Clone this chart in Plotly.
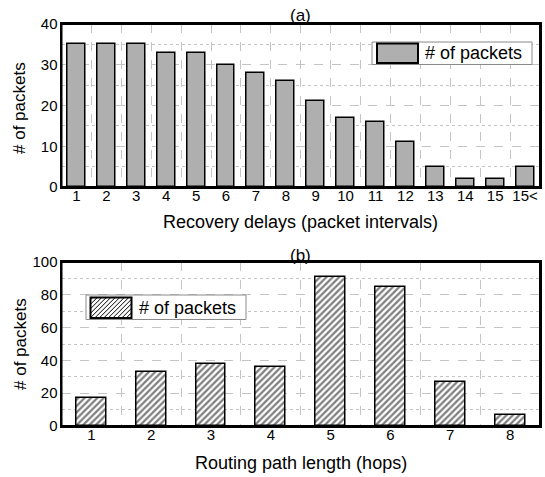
import plotly.graph_objects as go

# ---- data ----
delay_labels = ["1", "2", "3", "4", "5", "6", "7", "8", "9", "10", "11", "12", "13", "14", "15", "15<"]
delay_packets = [35, 35, 35, 33, 33, 30, 28, 26, 21, 17, 16, 11, 5, 2, 2, 5]
hop_labels = ["1", "2", "3", "4", "5", "6", "7", "8"]
hop_packets = [17, 33, 38, 36, 91, 85, 27, 7]
series_name = "# of packets"

W, H = 545, 477
FONT = "Liberation Sans, Arial, sans-serif"
GRID = "#c4c4c4"
BAR_GRAY = "#afafaf"
HATCH = dict(shape="/", fgcolor="black", bgcolor="white", size=4.5, solidity=0.5)

def px(x):
    return x / W

def py(y):
    return 1 - y / H

xdom = [px(61.5), px(540)]
top_dom = [py(187), py(24)]
bot_dom = [py(426), py(262)]

fig = go.Figure()

fig.add_trace(go.Bar(
    x=list(range(len(delay_labels))), y=delay_packets, width=0.6,
    marker=dict(color=BAR_GRAY, line=dict(color="black", width=1.5)),
    xaxis="x", yaxis="y", showlegend=False, name=series_name))

fig.add_trace(go.Bar(
    x=list(range(len(hop_labels))), y=hop_packets, width=0.5,
    marker=dict(color="white", line=dict(color="black", width=1.5), pattern=HATCH),
    xaxis="x2", yaxis="y2", showlegend=False, name=series_name))

def xax(n, anchor, labels):
    return dict(domain=xdom, anchor=anchor, range=[-0.5, n - 0.5],
                tickvals=list(range(n)), ticktext=labels, ticks="",
                showgrid=False, zeroline=False,
                showline=True, linecolor="black", linewidth=2, mirror=True,
                tickfont=dict(size=15, color="black"), ticklabelstandoff=-6,
                minor=dict(tick0=0.5, dtick=1, showgrid=True, gridcolor=GRID,
                           griddash="dash", gridwidth=1, ticks=""))

def yax(dom, anchor, top, dt):
    return dict(domain=dom, anchor=anchor, range=[0, top], dtick=dt, ticks="",
                showgrid=True, gridcolor=GRID, griddash="dash", gridwidth=1,
                zeroline=False, showline=True, linecolor="black", linewidth=2, mirror=True,
                tickfont=dict(size=15, color="black"), ticklabelstandoff=-1,
                minor=dict(dtick=dt / 2, showgrid=True, gridcolor=GRID,
                           griddash="dot", gridwidth=1, ticks=""))

fig.update_layout(
    width=W, height=H,
    margin=dict(l=0, r=0, t=0, b=0, autoexpand=False),
    paper_bgcolor="white", plot_bgcolor="rgba(0,0,0,0)",
    font=dict(family=FONT, color="black"),
    bargap=0, showlegend=False,
    xaxis=xax(len(delay_labels), "y", delay_labels),
    yaxis=yax(top_dom, "x", 40, 10),
    xaxis2=xax(len(hop_labels), "y2", hop_labels),
    yaxis2=yax(bot_dom, "x2", 100, 20),
)

# plot frames
for ydom in (top_dom, bot_dom):
    fig.add_shape(type="rect", xref="paper", yref="paper",
                  x0=xdom[0], x1=xdom[1], y0=ydom[0], y1=ydom[1], layer="above",
                  line=dict(color="black", width=2), fillcolor="rgba(0,0,0,0)")

# custom legend boxes (box, swatch, hatching) in pixel positions
def rect(x0, x1, y0, y1, fill, lc, lw):
    fig.add_shape(type="rect", xref="paper", yref="paper", layer="above",
                  x0=px(x0), x1=px(x1), y0=py(y1), y1=py(y0),
                  fillcolor=fill, line=dict(color=lc, width=lw))

def hatch_path(x0, x1, y0, y1, s):
    segs = []
    c = x0 + y0 + s / 2
    while c < x1 + y1:
        xa, xb = max(x0, c - y1), min(x1, c - y0)
        if xb > xa:
            segs.append(f"M{px(xa):.5f},{py(c - xa):.5f}L{px(xb):.5f},{py(c - xb):.5f}")
        c += s
    return "".join(segs)

rect(372, 532, 42, 64.5, "white", "#8a8a8a", 1)
rect(377, 418, 43.5, 63, BAR_GRAY, "black", 2)

rect(86, 246, 295, 319.5, "white", "#8a8a8a", 1)
fig.add_shape(type="path", xref="paper", yref="paper", layer="above",
              path=hatch_path(90.5, 131.5, 297.5, 318, 4.5),
              line=dict(color="black", width=1))
rect(90.5, 131.5, 297.5, 318, "rgba(0,0,0,0)", "black", 2)

ann = [
    dict(text=series_name, x=px(423), y=py(53), xanchor="left", yanchor="middle", font=dict(size=18)),
    dict(text=series_name, x=px(137), y=py(307.5), xanchor="left", yanchor="middle", font=dict(size=18)),
    dict(text="(a)", x=sum(xdom) / 2, y=py(15.5), xanchor="center", yanchor="middle", font=dict(size=17)),
    dict(text="(b)", x=sum(xdom) / 2, y=py(255.5), xanchor="center", yanchor="middle", font=dict(size=17)),
    dict(text="Recovery delays (packet intervals)", x=sum(xdom) / 2, y=py(222),
         xanchor="center", yanchor="middle", font=dict(size=18)),
    dict(text="Routing path length (hops)", x=sum(xdom) / 2, y=py(463),
         xanchor="center", yanchor="middle", font=dict(size=18)),
    dict(text="# of packets", x=px(20), y=py(108), textangle=-90,
         xanchor="center", yanchor="middle", font=dict(size=17)),
    dict(text="# of packets", x=px(20), y=py(344), textangle=-90,
         xanchor="center", yanchor="middle", font=dict(size=17)),
]
for a in ann:
    a.update(xref="paper", yref="paper", showarrow=False)
    fig.add_annotation(**a)

fig.write_html("out.html")
